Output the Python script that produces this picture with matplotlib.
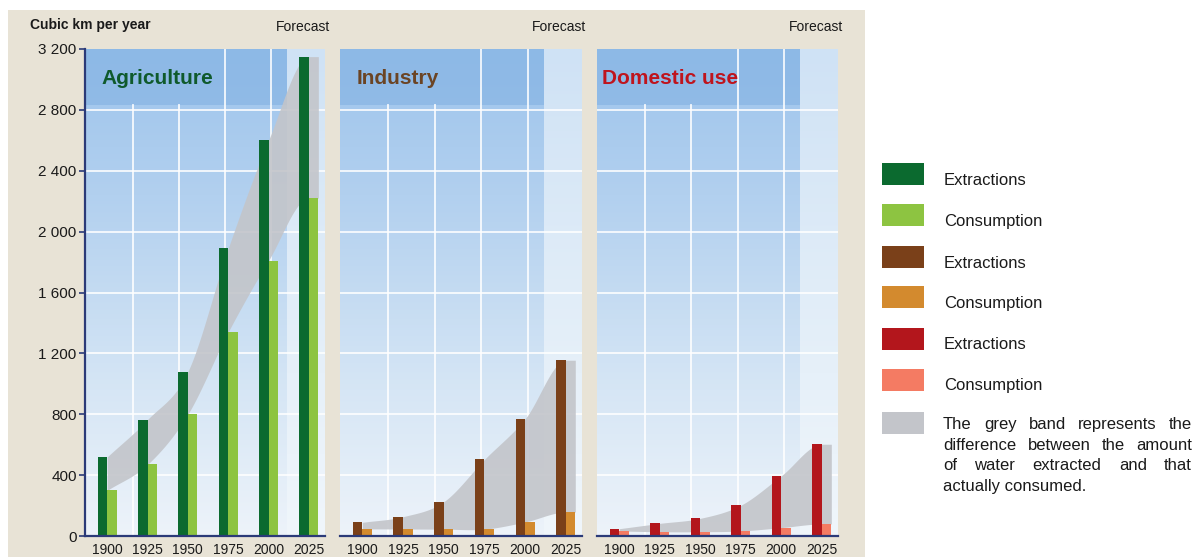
import numpy as np
import matplotlib
matplotlib.use("Agg")
import matplotlib.pyplot as plt
from matplotlib.colors import LinearSegmentedColormap
from matplotlib.patches import Rectangle
from matplotlib.ticker import FuncFormatter

plt.rcParams["font.family"] = ["Liberation Sans", "DejaVu Sans"]

# data (cubic km per year)
years = ["1900", "1925", "1950", "1975", "2000", "2025"]
agri_extraction = [520, 765, 1080, 1890, 2600, 3150]
agri_consumption = [300, 470, 800, 1340, 1810, 2220]
ind_extraction = [90, 127, 225, 503, 770, 1155]
ind_consumption = [47, 46, 45, 45, 92, 157]
dom_extraction = [48, 83, 116, 202, 396, 603]
dom_consumption = [33, 28, 28, 33, 55, 79]

panel_titles = ["Agriculture", "Industry", "Domestic use"]
title_colors = ["#0f5a2c", "#6b4424", "#bf141d"]
ext_colors = ["#0b6a2f", "#7a4019", "#b3161c"]
cons_colors = ["#8dc441", "#d38a2e", "#f47b63"]
band_color = "#c3c5ca"

legend_labels = ["Extractions", "Consumption", "Extractions", "Consumption",
                 "Extractions", "Consumption"]
legend_colors = [ext_colors[0], cons_colors[0], ext_colors[1], cons_colors[1],
                 ext_colors[2], cons_colors[2]]
band_note = ["The grey band represents the", "difference between the amount",
             "of water extracted and that", "actually consumed."]

W, H = 1195, 557
BAR_W = 0.235
XMIN, XMAX = -0.55, 5.4
FORECAST_X = 4.47
YMAX = 3200


def smooth(y, xs):
    # Catmull-Rom through the group values at x = 0..n-1, flat past the last one
    y = np.asarray(y, float)
    n = len(y)
    m = np.empty(n)
    m[1:-1] = (y[2:] - y[:-2]) / 2
    m[0] = y[1] - y[0]
    m[-1] = 0.0
    xc = np.clip(xs, 0, n - 1)
    idx = np.clip(np.floor(xc).astype(int), 0, n - 2)
    t = xc - idx
    h00 = 2 * t**3 - 3 * t**2 + 1
    h10 = t**3 - 2 * t**2 + t
    h01 = -2 * t**3 + 3 * t**2
    h11 = t**3 - t**2
    return h00 * y[idx] + h10 * m[idx] + h01 * y[idx + 1] + h11 * m[idx + 1]


def px_axes(x0, x1, y0=49, y1=536):
    return [x0 / W, (H - y1) / H, (x1 - x0) / W, (y1 - y0) / H]


main_cmap = LinearSegmentedColormap.from_list(
    "sky", [(0.0, "#edf3fa"), (0.3, "#d6e6f5"), (0.7, "#b2d0ef"), (1.0, "#9dc4ec")])
fc_cmap = LinearSegmentedColormap.from_list(
    "sky_fc", [(0.0, "#f0f6fb"), (0.5, "#e1edf8"), (1.0, "#cfe2f5")])
grad = np.linspace(1, 0, 256).reshape(-1, 1)

fig = plt.figure(figsize=(W / 100, H / 100), dpi=100, facecolor="white")
fig.patches.append(Rectangle((8 / W, 0), (865 - 8) / W, (H - 10) / H,
                             transform=fig.transFigure, facecolor="#e8e3d6",
                             edgecolor="none", zorder=-10))

panel_px = [(85, 325), (340, 582), (597, 838)]
series = [(agri_extraction, agri_consumption), (ind_extraction, ind_consumption),
          (dom_extraction, dom_consumption)]
pos = np.arange(len(years))

for p, ((x0, x1), (ext, cons)) in enumerate(zip(panel_px, series)):
    ax = fig.add_axes(px_axes(x0, x1))
    ax.set_xlim(XMIN, XMAX)
    ax.set_ylim(0, YMAX)
    ax.set_facecolor("none")

    ax.imshow(grad, cmap=main_cmap, extent=[XMIN, FORECAST_X, 0, YMAX],
              aspect="auto", zorder=0)
    ax.imshow(grad, cmap=fc_cmap, extent=[FORECAST_X, XMAX, 0, YMAX],
              aspect="auto", zorder=0)
    ax.add_patch(Rectangle((XMIN, 2830), FORECAST_X - XMIN, YMAX - 2830,
                           facecolor="#80b0e2", alpha=0.55, edgecolor="none", zorder=0.5))

    # grid
    for yv in range(400, YMAX, 400):
        ax.axhline(yv, color="white", lw=1.3, alpha=0.9, zorder=1)
    for k, xv in enumerate([0.64, 1.78, 2.92, 4.07]):
        top = 2830 if k < 2 else YMAX
        ax.plot([xv, xv], [0, top], color="white", lw=1.3, alpha=0.9, zorder=1)

    # grey band between extraction and consumption
    xs = np.linspace(0, 5 + BAR_W, 500)
    ax.fill_between(xs, smooth(cons, xs), smooth(ext, xs),
                    color=band_color, alpha=0.9, lw=0, zorder=2)

    ax.bar(pos - BAR_W / 2, ext, BAR_W, color=ext_colors[p], zorder=3)
    ax.bar(pos + BAR_W / 2, cons, BAR_W, color=cons_colors[p], zorder=3)

    ax.text(0.07 if p < 2 else 0.02, 0.928, panel_titles[p], transform=ax.transAxes,
            fontsize=15, fontweight="bold", color=title_colors[p], va="baseline", zorder=5)
    ax.text(1.02 if p != 1 else 1.015, 1.045, "Forecast", transform=ax.transAxes,
            ha="right", va="center", fontsize=10, color="#1a1a1a")

    for s in ["top", "right"]:
        ax.spines[s].set_visible(False)
    ax.spines["bottom"].set_color("#2b3a78")
    ax.spines["bottom"].set_linewidth(1.6)
    ax.spines["bottom"].set_zorder(6)
    ax.set_xticks(pos)
    ax.set_xticklabels(years)
    ax.tick_params(axis="x", length=0, pad=5, labelsize=10, labelcolor="#1a1a1a")
    if p == 0:
        ax.spines["left"].set_color("#2b3a78")
        ax.spines["left"].set_linewidth(1.6)
        ax.spines["left"].set_zorder(6)
        ax.set_yticks(range(0, YMAX + 1, 400))
        ax.yaxis.set_major_formatter(FuncFormatter(lambda v, _: f"{v:,.0f}".replace(",", " ")))
        ax.tick_params(axis="y", length=4, width=1.2, color="#2b3a78", pad=2,
                       labelsize=11, labelcolor="#1a1a1a")
    else:
        ax.spines["left"].set_visible(False)
        ax.set_yticks([])

fig.text(30 / W, 1 - 25 / H, "Cubic km per year", fontsize=10, fontweight="bold",
         va="center", ha="left", color="#1a1a1a")

# legend on the right
patch_centers = [174, 215, 257, 297, 339, 380, 423]
text_base = [185, 226, 268, 308, 349, 390]
for k, (lab, col) in enumerate(zip(legend_labels, legend_colors)):
    fig.patches.append(Rectangle((882 / W, 1 - (patch_centers[k] + 11) / H), 42 / W, 22 / H,
                                 transform=fig.transFigure, facecolor=col, edgecolor="none"))
    fig.text(944 / W, 1 - text_base[k] / H, lab, fontsize=12, va="baseline",
             ha="left", color="#1a1a1a")
fig.patches.append(Rectangle((882 / W, 1 - (patch_centers[6] + 11) / H), 42 / W, 22 / H,
                             transform=fig.transFigure, facecolor=band_color, edgecolor="none"))

renderer = fig.canvas.get_renderer()
x_left, x_right = 943 / W, 1192 / W
for k, line in enumerate(band_note):
    y = 1 - (429 + k * 20.5) / H
    words = line.split()
    if k == len(band_note) - 1:
        fig.text(x_left, y, line, fontsize=12, va="baseline", color="#1a1a1a")
        continue
    objs = [fig.text(0, y, wd, fontsize=12, va="baseline", color="#1a1a1a") for wd in words]
    widths = [o.get_window_extent(renderer).width / fig.bbox.width for o in objs]
    gap = (x_right - x_left - sum(widths)) / (len(words) - 1)
    xc = x_left
    for o, wdt in zip(objs, widths):
        o.set_x(xc)
        xc += wdt + gap

fig.savefig("out.png", dpi=100, facecolor=fig.get_facecolor())
